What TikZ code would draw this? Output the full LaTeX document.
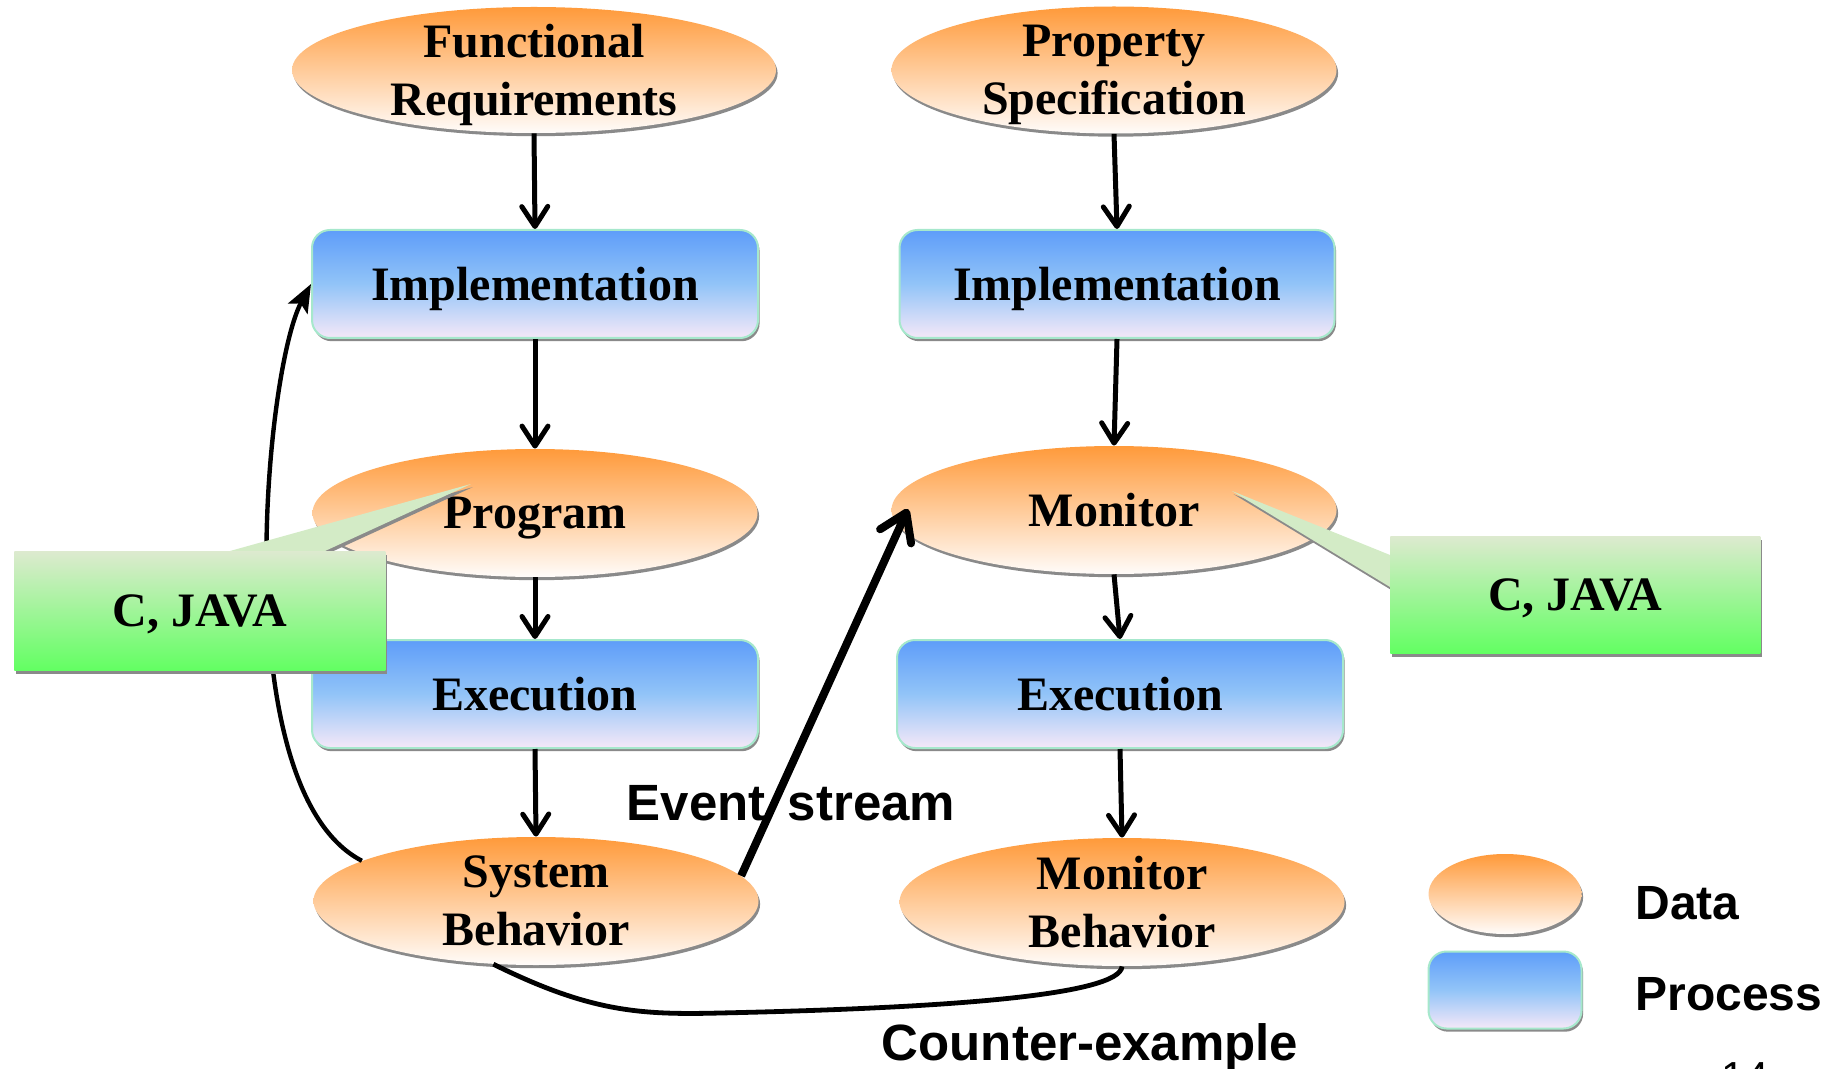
\documentclass[tikz,border=0pt]{standalone}
\usepackage{fontspec}
\setmainfont{Liberation Serif}
\newfontfamily\sansfont{Liberation Sans}
\usetikzlibrary{shapes.geometric,shadows,arrows.meta,calc}

\definecolor{dataTop}{HTML}{FF9A3A}
\definecolor{dataBot}{HTML}{FFFCFA}
\definecolor{procTop}{HTML}{5E9DF9}
\definecolor{procMid}{HTML}{92C4F8}
\definecolor{procBot}{HTML}{F5E8F8}
\definecolor{procLine}{HTML}{A6E8CC}
\definecolor{noteTop}{HTML}{DDEACF}
\definecolor{noteBot}{HTML}{62FF62}
\definecolor{notePtr}{HTML}{D3EBC6}
\definecolor{shadowgray}{HTML}{8A8A8A}

\begin{document}
\begin{tikzpicture}[x=0.5pt,y=-0.5pt,
  boxshadow/.style={drop shadow={shadow xshift=0.8pt,shadow yshift=-1.6pt,fill=shadowgray,opacity=1}},
  serifbold/.style={font=\fontsize{24}{29}\selectfont\bfseries, text depth=0pt},
  datanode/.style={ellipse, inner sep=-12pt, minimum width=222.5pt, minimum height=64pt,
    top color=dataTop, bottom color=dataBot, boxshadow, align=center, serifbold},
  procnode/.style={rectangle, rounded corners=9pt, draw=procLine, line width=1pt,
    minimum width=223pt, minimum height=54pt, inner sep=0pt,
    top color=procTop, bottom color=procBot, middle color=procMid, boxshadow, serifbold},
  note/.style={rectangle, inner sep=0pt, top color=noteTop, bottom color=noteBot,
    boxshadow, serifbold, anchor=north west},
  notepointer/.style={fill=notePtr, boxshadow},
  flow/.style={line width=2.5pt, -{Straight Barb[length=10pt,width=13pt,round]}},
  feedback/.style={line width=2.2pt, -{Stealth[length=14pt,width=11pt,inset=3pt]}},
  evtflow/.style={line width=4pt, -{Straight Barb[length=13pt,width=17pt,round]}},
  plainline/.style={line width=2.4pt},
  sanslabel/.style={inner sep=0pt, font=\fontsize{25.5}{30}\selectfont\sansfont\bfseries},
  legendtext/.style={inner sep=0pt, font=\fontsize{24}{29}\selectfont\sansfont\bfseries}
]
\useasboundingbox (0,0) rectangle (1829,1069);

% left column: system side
\node[datanode, minimum width=242pt, minimum height=63pt] (fr) at (534,70) {Functional\\Requirements};
\node[procnode] (implL) at (535,284) {Implementation};
\node[datanode] (prog) at (535,513) {Program};
\node[procnode] (execL) at (535,694) {Execution};
\node[datanode] (sb) at (536,901) {System\\Behavior};

% right column: monitor side
\node[datanode, minimum height=63.5pt] (ps) at (1114,70) {Property\\Specification};
\node[procnode, minimum width=217.5pt] (implR) at (1117,284) {Implementation};
\node[datanode] (mon) at (1114,510) {Monitor};
\node[procnode] (execR) at (1120,694) {Execution};
\node[datanode] (mb) at (1122,902) {Monitor\\Behavior};

% legend
\node[datanode, inner sep=0pt, minimum width=76.5pt, minimum height=40pt] (legData) at (1505,894) {};
\node[procnode, minimum width=76.5pt, minimum height=38.5pt] (legProc) at (1505,990) {};
\node[legendtext, anchor=base west] (legDataTxt) at (1635,919) {Data};
\node[legendtext, anchor=base west] (legProcTxt) at (1635,1010) {Process};

% main flow
\draw[flow] (fr.south) -- (implL.north);
\draw[flow] (implL.south) -- (prog.north);
\draw[flow] (prog.south) -- (execL.north);
\draw[flow] (execL.south) -- (sb.north);
\draw[flow] (ps.south) -- (implR.north);
\draw[flow] (implR.south) -- (mon.north);
\draw[flow] (mon.south) -- (execR.north);
\draw[flow] (execR.south) -- (mb.north);

% feedback, event stream and counter-example
\draw[feedback] (sb.167.5) .. controls (225,790) and (265,370) .. (implL.west);
\draw[evtflow] (sb.7) -- ($(mon.center)+(-206,-1)$);
\draw[plainline] (sb.236) .. controls (590,1012) and (640,1015) .. (720,1013)
  .. controls (950,1008) and (1120,995) .. (mb.south);

\node[sanslabel, anchor=base] (evtLbl) at (791,820) {Event\hspace{4pt} stream};
\node[sanslabel, anchor=base] (ctrLbl) at (1090,1060) {Counter-example};

% language callouts
\coordinate (callLnw) at (14,551);
\coordinate (callRnw) at (1390,536);
\fill[notepointer] ($(callLnw)+(216,0)$) -- ($(prog.center)+(-64,-29)$) -- ($(callLnw)+(311,0)$) -- cycle;
\fill[notepointer] ($(callRnw)+(0,19)$) -- ($(mon.center)+(118,-19)$) -- ($(callRnw)+(0,51)$) -- cycle;
\node[note, minimum width=185.5pt, minimum height=59.5pt] (callL) at (callLnw) {C, JAVA};
\node[note, minimum width=185pt, minimum height=58.5pt] (callR) at (callRnw) {C, JAVA};

% page number
\node[anchor=north, inner sep=0pt, font=\fontsize{21}{25}\selectfont\sansfont] (pgno) at (1745,1062) {14};
\end{tikzpicture}
\end{document}
